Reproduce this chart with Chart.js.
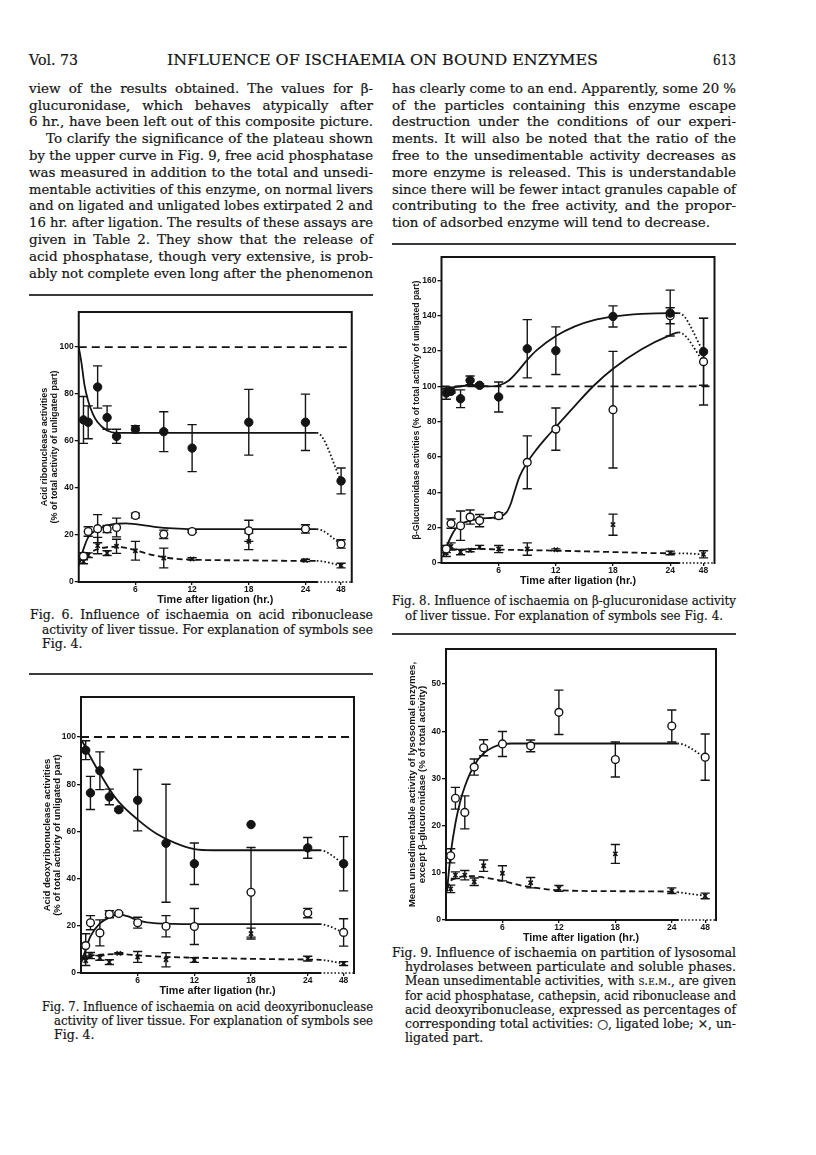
<!DOCTYPE html>
<html><head><meta charset="utf-8">
<script src="https://cdn.jsdelivr.net/npm/chart.js@4.4.1/dist/chart.umd.min.js"></script>
<style>
html,body{margin:0;padding:0;background:#fff;}
#page{position:relative;width:816px;height:1155px;overflow:hidden;background:#fff;color:#141414;font-family:"DejaVu Serif","Liberation Serif",serif;}
.ln{position:absolute;white-space:nowrap;line-height:1;transform-origin:0 50%;-webkit-text-stroke:0.2px #141414;}
.rule{position:absolute;height:2px;background:#3a3a3a;}
canvas{position:absolute;}
.sc{font-variant:small-caps;}
</style></head><body><div id="page"></div>
<script>
// ---------------- DATA ----------------
const TIMES_HR = [0.5, 1, 2, 3, 4, 6, 9, 12, 18, 24, 48];
const X_TICK_HOURS = [6, 12, 18, 24, 48];
const X_TICK_LABELS = ['6', '12', '18', '24', '48'];
const Y_TICKS_100 = [0, 20, 40, 60, 80, 100];
const Y_TICKS_160 = [0, 20, 40, 60, 80, 100, 120, 140, 160];
const Y_TICKS_50 = [0, 10, 20, 30, 40, 50];
const BRK = 'break'; // curve point placed at the axis break

// Fig. 6 acid ribonuclease
const F6_TOTAL = [69, 68, 83, 70, 62, 65, 64, 57, 68, 68, 43];
const F6_TOTAL_SEM = [10, 7, 9, 5, 3, 1.5, 8.5, 10, 14, 12, 5.5];
const F6_UNSED = [11, 21.5, 22.7, 22.6, 23.2, 28.3, 20.3, 21.5, 21.8, 22.6, 16.2];
const F6_UNSED_SEM = [1.5, 2, 6, 1.5, 4, 1, 1.8, 0.5, 4.5, 1.8, 1.8];
const F6_UNLIG = [8.8, 11.4, 15.5, 12.3, 15.2, 13.3, 10.2, 9.8, 17.3, 9.2, 7];
const F6_UNLIG_SEM = [1, 1, 3.5, 1, 3, 4, 4.2, 0.5, 3.5, 0.5, 1];
const F6_FIT_TOTAL = [[0,100],[0.3,93],[0.6,84],[1,77],[1.5,71.5],[2,68],[3,64.5],[4,63.5],[12,63.5],[BRK,63.5],[48,43.2]];
const F6_FIT_UNSED = [[0,7],[0.5,14],[1,19],[2,22.5],[3,24],[4,24.8],[5,25],[6,24.6],[8,23.5],[10,22.8],[12,22.5],[BRK,22.5],[48,16.2]];
const F6_FIT_UNLIG = [[0,8],[0.5,10.5],[1,12],[2,14],[3,14.8],[4,15],[5,14.5],[6,13.5],[8,11.3],[10,10],[12,9.5],[18,9.2],[24,9],[BRK,9],[48,7]];

// Fig. 7 acid deoxyribonuclease
const F7_TOTAL = [94.4, 76.3, 85.7, 74.6, 69.2, 73.2, 55, 46.3, 62.9, 53, 46.3];
const F7_TOTAL_SEM = [4, 7, 8, 3.3, 0.5, 13, 25, 8.8, 0, 4.4, 11.5];
const F7_UNSED = [11.6, 21.3, 17, 24.9, 25.2, 21.3, 19.8, 19.7, 34.2, 25.4, 17.2];
const F7_UNSED_SEM = [5, 3, 5.5, 1.5, 0.5, 2.3, 4.5, 7.6, 19, 2, 5.8];
const F7_UNLIG = [5.2, 7.4, 6.4, 4.6, 8.3, 6.8, 5.6, 5.5, 16.7, 6.1, 4.0];
const F7_UNLIG_SEM = [2, 1.3, 1, 1, 0.3, 2.3, 3, 1, 2.3, 1, 0.8];
const F7_FIT_TOTAL = [[0,99],[0.5,95.5],[1,91.5],[2,84.5],[3,78],[4,72.5],[6,65],[8,59],[10,55],[12,52.5],[14,52],[24,52],[BRK,52],[48,46.3]];
const F7_FIT_UNSED = [[0,4],[0.5,10],[1,15.5],[2,21],[3,23.5],[4,24.7],[5,24],[6,22.3],[8,21],[12,20.7],[BRK,20.7],[48,17.2]];
const F7_FIT_UNLIG = [[0,5],[0.5,6.8],[1,7.3],[4,8],[6,7.5],[9,6.8],[12,6.5],[18,6],[24,5.7],[BRK,5.6],[48,4]];

// Fig. 8 beta-glucuronidase
const F8_TOTAL = [96.2, 97.2, 93, 103.4, 100.6, 94, 121.3, 120.2, 139.6, 141.5, 119.6];
const F8_TOTAL_SEM = [3.5, 1, 5, 2.5, 0.8, 8.5, 16.5, 13.5, 6, 13, 19];
const F8_UNSED = [7.9, 22.3, 21.1, 26, 24, 26.8, 57, 75.8, 86.8, 140, 114];
const F8_UNSED_SEM = [2, 2.6, 8.3, 4, 3.5, 1.7, 15, 12, 33, 4.5, 24.5];
const F8_UNLIG = [5.7, 9.4, 6.2, 7.2, 9.0, 7.9, 7.9, 7.5, 21.7, 5.7, 4.9];
const F8_UNLIG_SEM = [2, 2, 1.5, 0.8, 1, 2, 3.5, 0.5, 6, 1, 2];
const F8_FIT_TOTAL = [[0,98.5],[3,100.5],[5,100],[6,100.5],[7,103],[8,108.5],[9,115],[10,120.5],[12,128.5],[14,134],[16,137.5],[18,139.5],[21,141],[24,141.5],[BRK,141.5],[48,119.6]];
const F8_FIT_UNSED = [[0.2,4],[0.6,10],[1,15],[1.5,19.5],[2,22],[3,24],[4,25],[6,26.3],[6.8,28.5],[7.3,34],[7.7,41],[8.2,49],[9,57],[10,64.5],[11,71],[12,77],[14,89],[16,100.5],[18,110],[21,121],[24,129],[BRK,130.6],[48,114]];
const F8_FIT_UNLIG = [[0.2,5],[1,8],[2,7.5],[4,8],[6,7.6],[9,7.3],[12,7],[18,6.2],[24,5.5],[BRK,5.5],[48,4.9]];

// Fig. 9 mean unsedimentable activity
const F9_UNSED = [13.6, 25.8, 22.8, 32.4, 36.5, 37.3, 36.9, 44, 34, 41.1, 34.5];
const F9_UNSED_SEM = [1.5, 2.3, 3.5, 1.7, 1.7, 2.65, 1.25, 4.7, 3.7, 3.4, 4.9];
const F9_UNLIG = [6.6, 9.5, 9.5, 8.1, 11.5, 9.9, 7.9, 6.7, 14, 6.2, 5.1];
const F9_UNLIG_SEM = [0.8, 0.7, 1, 0.8, 1.2, 1.6, 1.1, 0.6, 2, 0.6, 0.6];
const F9_FIT_UNSED = [[0.1,6],[0.5,14],[1,20.5],[1.5,25],[2,28.3],[3,32.8],[4,35.3],[5,36.6],[6,37.2],[7,37.4],[24,37.4],[BRK,37.4],[48,34.5]];
const F9_FIT_UNLIG = [[0.1,6.5],[0.5,8.3],[1,8.8],[2,9.3],[3,9.3],[4,9],[6,8.3],[8,7.3],[10,6.7],[12,6.3],[18,6.1],[24,6.0],[BRK,5.9],[48,5.1]];

// Titles & text
const X_TITLE = 'Time after ligation (hr.)';
const F6_Y_TITLE = ['Acid ribonuclease activities', '(% of total activity of unligated part)'];
const F7_Y_TITLE = ['Acid deoxyribonuclease activities', '(% of total activity of unligated part)'];
const F8_Y_TITLE = ['\u03b2-Glucuronidase activities (% of total activity of unligated part)'];
const F9_Y_TITLE = ['Mean unsedimentable activity of lysosomal enzymes,', 'except \u03b2-glucuronidase (% of total activity)'];

const LEFT_TEXT = [
 'view of the results obtained. The values for \u03b2-',
 'glucuronidase, which behaves atypically after',
 '6 hr., have been left out of this composite picture.',
 'To clarify the significance of the plateau shown',
 'by the upper curve in Fig. 9, free acid phosphatase',
 'was measured in addition to the total and unsedi-',
 'mentable activities of this enzyme, on normal livers',
 'and on ligated and unligated lobes extirpated 2 and',
 '16 hr. after ligation. The results of these assays are',
 'given in Table 2. They show that the release of',
 'acid phosphatase, though very extensive, is prob-',
 'ably not complete even long after the phenomenon'];
const RIGHT_TEXT = [
 'has clearly come to an end. Apparently, some 20 %',
 'of the particles containing this enzyme escape',
 'destruction under the conditions of our experi-',
 'ments. It will also be noted that the ratio of the',
 'free to the unsedimentable activity decreases as',
 'more enzyme is released. This is understandable',
 'since there will be fewer intact granules capable of',
 'contributing to the free activity, and the propor-',
 'tion of adsorbed enzyme will tend to decrease.'];
const CAP6 = ['Fig. 6. Influence of ischaemia on acid ribonuclease',
 'activity of liver tissue. For explanation of symbols see', 'Fig. 4.'];
const CAP7 = ['Fig. 7. Influence of ischaemia on acid deoxyribonuclease',
 'activity of liver tissue. For explanation of symbols see', 'Fig. 4.'];
const CAP8 = ['Fig. 8. Influence of ischaemia on \u03b2-glucuronidase activity',
 'of liver tissue. For explanation of symbols see Fig. 4.'];
const CAP9 = ['Fig. 9. Influence of ischaemia on partition of lysosomal',
 'hydrolases between particulate and soluble phases.',
 'Mean unsedimentable activities, with <span class="sc">s.e.m.</span>, are given',
 'for acid phosphatase, cathepsin, acid ribonuclease and',
 'acid deoxyribonuclease, expressed as percentages of',
 'corresponding total activities: \u25cb, ligated lobe; \u00d7, un-',
 'ligated part.'];

// ---------------- PAGE TEXT ----------------
const page = document.getElementById('page');
const INK = '#141414';
function addLine(html, x, yc, w, size, mode) {
  const d = document.createElement('div');
  d.className = 'ln';
  d.style.fontSize = size + 'px';
  d.style.left = x + 'px';
  d.style.top = (yc - size * 0.56) + 'px';
  d.innerHTML = html;
  page.appendChild(d);
  if (w) {
    const nat = d.getBoundingClientRect().width;
    const spaces = (d.textContent.match(/ /g) || []).length;
    if (mode === 'justify' && nat < w && spaces) d.style.wordSpacing = ((w - nat) / spaces) + 'px';
    else d.style.transform = 'scaleX(' + (w / nat) + ')';
  }
}
function rule(x, y, w) {
  const r = document.createElement('div'); r.className = 'rule';
  r.style.left = x + 'px'; r.style.top = (y - 1) + 'px'; r.style.width = w + 'px';
  page.appendChild(r);
}
const COL_L = 29, COL_R = 392, COL_W = 344, LINE0 = 89.3, LINE_STEP = 16.8;
function layoutText() {
  addLine('Vol. 73', COL_L, 62, 49, 15.5, 'fit');
  addLine('INFLUENCE OF ISCHAEMIA ON BOUND ENZYMES', 167, 62, 431, 15.5, 'fit');
  addLine('613', 713, 62, 23, 15.5, 'fit');
  LEFT_TEXT.forEach((t, i) => {
    const ind = i === 3 ? 17 : 0;
    addLine(t, COL_L + ind, LINE0 + i * LINE_STEP, COL_W - ind, 13.5, 'justify');
  });
  RIGHT_TEXT.forEach((t, i) => {
    const last = i === RIGHT_TEXT.length - 1;
    addLine(t, COL_R, LINE0 + i * LINE_STEP, last ? 318 : COL_W, 13.5, last ? 'fit' : 'justify');
  });
  rule(COL_L, 295, COL_W); rule(COL_R, 244, COL_W); rule(COL_L, 674, COL_W); rule(COL_R, 634, COL_W);
  // captions
  addLine(CAP6[0], COL_L + 1, 616, COL_W - 1, 12.5, 'justify');
  addLine(CAP6[1], COL_L + 13, 630.5, COL_W - 13, 12.5, 'justify');
  addLine(CAP6[2], COL_L + 13, 645, 0, 12.5);
  addLine(CAP7[0], COL_L + 13, 1008, COL_W - 13, 12.5, 'justify');
  addLine(CAP7[1], COL_L + 25, 1022, COL_W - 25, 12.5, 'justify');
  addLine(CAP7[2], COL_L + 25, 1036, 0, 12.5);
  addLine(CAP8[0], COL_R, 602, COL_W, 12.5, 'justify');
  addLine(CAP8[1], COL_R + 13, 617, 318, 12.5, 'fit');
  CAP9.forEach((t, i) => {
    const x = i === 0 ? COL_R : COL_R + 13;
    const last = i === CAP9.length - 1;
    addLine(t, x, 954 + i * 14.2, last ? 0 : COL_R + COL_W - x, 12.5, 'justify');
  });
}

// ---------------- CHARTS ----------------
const FIGS = [
  { frame: [79, 312, 352, 582], yMax: 114.9, xMax: 28.9, pos48: 27.77, breakAt: 25.2,
    yTicks: Y_TICKS_100, yTitle: F6_Y_TITLE, yTitleSize: 9, yTitleGap: 9.5, yTitleX: 45, ref100: true,
    series: [['filled', F6_TOTAL, F6_TOTAL_SEM], ['open', F6_UNSED, F6_UNSED_SEM], ['cross', F6_UNLIG, F6_UNLIG_SEM]],
    curves: [[F6_FIT_TOTAL, false], [F6_FIT_UNSED, false], [F6_FIT_UNLIG, true]] },
  { frame: [81, 697, 354, 973], yMax: 116.9, xMax: 28.9, pos48: 27.8, breakAt: 25.3,
    yTicks: Y_TICKS_100, yTitle: F7_Y_TITLE, yTitleSize: 9.5, yTitleGap: 10, yTitleX: 47, ref100: true,
    series: [['filled', F7_TOTAL, F7_TOTAL_SEM], ['open', F7_UNSED, F7_UNSED_SEM], ['cross', F7_UNLIG, F7_UNLIG_SEM]],
    curves: [[F7_FIT_TOTAL, false], [F7_FIT_UNSED, false], [F7_FIT_UNLIG, true]] },
  { frame: [441, 257, 714, 563], yMax: 173.2, xMax: 28.65, pos48: 27.5, breakAt: 24.9,
    yTicks: Y_TICKS_160, yTitle: F8_Y_TITLE, yTitleSize: 8.7, yTitleGap: 10, yTitleX: 416.5, ref100: true,
    series: [['filled', F8_TOTAL, F8_TOTAL_SEM], ['open', F8_UNSED, F8_UNSED_SEM], ['cross', F8_UNLIG, F8_UNLIG_SEM]],
    curves: [[F8_FIT_TOTAL, false], [F8_FIT_UNSED, false], [F8_FIT_UNLIG, true]] },
  { frame: [446, 649, 716, 920], yMax: 57.4, xMax: 28.7, pos48: 27.55, breakAt: 24.6,
    yTicks: Y_TICKS_50, yTitle: F9_Y_TITLE, yTitleSize: 9.7, yTitleGap: 10, yTitleX: 412, ref100: false,
    series: [['open', F9_UNSED, F9_UNSED_SEM], ['cross', F9_UNLIG, F9_UNLIG_SEM]],
    curves: [[F9_FIT_UNSED, false], [F9_FIT_UNLIG, true]] }
];

const X_AXIS_H = 23;
const PAD = 6;
const CAP_HALF = 4.6;
const TICK_FONT = { family: 'Liberation Sans', weight: 'bold', size: 8.5 };

const errorBarPlugin = {
  id: 'errorBars',
  beforeDatasetsDraw(chart) {
    const { ctx, scales: { x, y } } = chart;
    ctx.save();
    ctx.strokeStyle = INK; ctx.lineWidth = 1.4;
    chart.data.datasets.forEach(ds => {
      if (!ds.sem) return;
      ds.data.forEach((p, j) => {
        const e = ds.sem[j]; if (!e) return;
        const px = x.getPixelForValue(p.x);
        const t = y.getPixelForValue(p.y + e), b = y.getPixelForValue(p.y - e);
        ctx.beginPath();
        ctx.moveTo(px, t); ctx.lineTo(px, b);
        ctx.moveTo(px - CAP_HALF, t); ctx.lineTo(px + CAP_HALF, t);
        ctx.moveTo(px - CAP_HALF, b); ctx.lineTo(px + CAP_HALF, b);
        ctx.stroke();
      });
    });
    ctx.restore();
  }
};
const framePlugin = {
  id: 'frame',
  afterDatasetsDraw(chart, args, opts) {
    const { ctx, chartArea: a, scales: { x } } = chart;
    const bx = x.getPixelForValue(opts.breakAt);
    ctx.save();
    ctx.strokeStyle = INK; ctx.lineWidth = 2; ctx.lineCap = 'square';
    ctx.beginPath();
    ctx.moveTo(bx, a.bottom); ctx.lineTo(a.left, a.bottom); ctx.lineTo(a.left, a.top);
    ctx.lineTo(a.right, a.top); ctx.lineTo(a.right, a.bottom);
    ctx.stroke();
    ctx.lineCap = 'butt'; ctx.lineWidth = 1.5; ctx.setLineDash([1.6, 2]);
    ctx.beginPath(); ctx.moveTo(bx, a.bottom); ctx.lineTo(a.right, a.bottom); ctx.stroke();
    ctx.restore();
  }
};

function makeFigure(f) {
  const [L, T, R, B] = f.frame;
  const lh = f.yTitleGap;
  const W = L - f.yTitleX + lh / 2;
  const cv = document.createElement('canvas');
  const left = L - W, top = T - PAD;
  const w = Math.round(R + PAD - left), h = Math.round(B + X_AXIS_H - top);
  cv.style.left = left + 'px'; cv.style.top = top + 'px';
  cv.style.width = w + 'px'; cv.style.height = h + 'px';
  cv.width = w; cv.height = h;
  page.appendChild(cv);
  const padR = w - (R - left);
  const toPos = hr => hr === BRK ? f.breakAt : (hr >= 48 ? f.pos48 : hr);
  const datasets = [];
  const styles = {
    filled: { pointStyle: 'circle', pointRadius: 4.2, pointBackgroundColor: INK, pointBorderColor: INK, pointBorderWidth: 1 },
    open: { pointStyle: 'circle', pointRadius: 3.9, pointBackgroundColor: '#fff', pointBorderColor: INK, pointBorderWidth: 1.4 },
    cross: { pointStyle: 'crossRot', pointRadius: 3, pointBackgroundColor: INK, pointBorderColor: INK, pointBorderWidth: 1.6 }
  };
  f.series.forEach(([kind, vals, sem]) => {
    datasets.push(Object.assign({
      type: 'scatter', showLine: false, order: 0,
      data: TIMES_HR.map((t, i) => ({ x: toPos(t), y: vals[i] })),
      sem: sem
    }, styles[kind]));
  });
  f.curves.forEach(([pts, dashed]) => {
    datasets.push({
      type: 'line', showLine: true, order: 2, pointRadius: 0,
      data: pts.map(([hr, v]) => ({ x: toPos(hr), y: v })),
      borderColor: INK, borderWidth: 1.8, borderDash: dashed ? [6, 3.5] : [],
      cubicInterpolationMode: 'monotone', fill: false,
      segment: { borderDash: ctx => ctx.p0.parsed.x >= f.breakAt - 1e-6 ? [1.6, 2.2] : undefined }
    });
  });
  if (f.ref100) {
    datasets.push({
      type: 'line', showLine: true, order: 3, pointRadius: 0,
      data: [{ x: 0, y: 100 }, { x: f.xMax, y: 100 }],
      borderColor: INK, borderWidth: 1.8, borderDash: [8, 5], fill: false
    });
  }
  return new Chart(cv, {
    type: 'scatter',
    data: { datasets },
    plugins: [errorBarPlugin, framePlugin],
    options: {
      responsive: false, animation: false, events: [],
      layout: { padding: { left: 0, top: PAD, right: padR, bottom: 0 } },
      plugins: { legend: { display: false }, tooltip: { enabled: false }, frame: { breakAt: f.breakAt } },
      scales: {
        x: {
          type: 'linear', min: 0, max: f.xMax,
          afterFit: s => { s.height = X_AXIS_H; },
          afterBuildTicks: s => { s.ticks = X_TICK_HOURS.map(hr => ({ value: toPos(hr) })); },
          grid: { drawOnChartArea: false, drawTicks: true, tickLength: 3, color: INK, lineWidth: 1.3 },
          border: { display: false },
          ticks: { autoSkip: false, maxRotation: 0, padding: 0, color: INK, font: TICK_FONT,
            callback: (v, i) => X_TICK_LABELS[i] },
          title: { display: true, text: X_TITLE, color: INK, padding: 0,
            font: { family: 'Liberation Sans', weight: 'bold', size: 10.8, lineHeight: 1 } }
        },
        y: {
          type: 'linear', min: 0, max: f.yMax,
          afterFit: s => { s.width = W; },
          afterBuildTicks: s => { s.ticks = f.yTicks.map(v => ({ value: v })); },
          grid: { drawOnChartArea: false, drawTicks: true, tickLength: 4, color: INK, lineWidth: 1.3 },
          border: { display: false },
          ticks: { padding: 1, color: INK, font: TICK_FONT, callback: v => String(v) },
          title: { display: true, text: f.yTitle, color: INK, padding: 0,
            font: { family: 'Liberation Sans', weight: 'bold', size: f.yTitleSize, lineHeight: lh / f.yTitleSize } }
        }
      }
    }
  });
}

function start() {
  layoutText();
  FIGS.forEach(makeFigure);
}
const fontLoads = ['13px "DejaVu Serif"', 'bold 10px "Liberation Sans"'].map(s => document.fonts.load(s).catch(() => {}));
Promise.race([Promise.all(fontLoads), new Promise(r => setTimeout(r, 1500))]).then(start);
</script>
</body></html>
